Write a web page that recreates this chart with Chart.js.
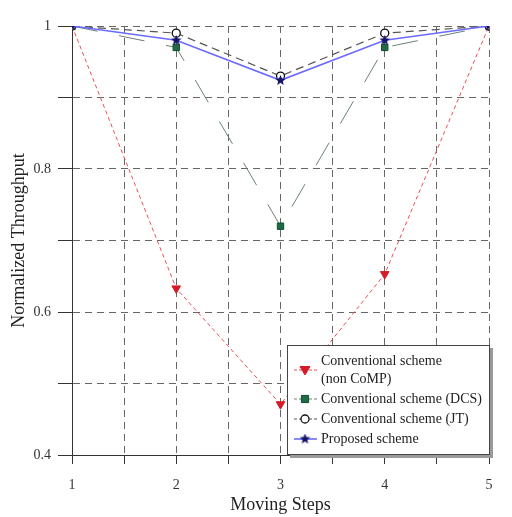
<!DOCTYPE html>
<html>
<head>
<meta charset="utf-8">
<script src="https://cdn.jsdelivr.net/npm/chart.js@4/dist/chart.umd.min.js"></script>
<style>
  html, body { margin: 0; padding: 0; background: #fff; }
  #wrap { width: 512px; height: 517px; }
</style>
</head>
<body>
<div id="wrap"><canvas id="chart"></canvas></div>
<script>
// Daten
const steps = [1, 2, 3, 4, 5];
const nonCompValues = [1, 0.633, 0.471, 0.653, 1];
const dcsValues = [1, 0.97, 0.72, 0.97, 1];
const jtValues = [1, 0.99, 0.93, 0.99, 1];
const proposedValues = [1, 0.98, 0.924, 0.98, 1];
const yLabelTicks = [0.4, 0.6, 0.8, 1];

const serif = '"Liberation Serif", "DejaVu Serif", serif';

function toPoints(values) {
    return steps.map((s, i) => ({ x: s, y: values[i] }));
}

// Stern als Punktsymbol
function makeStar(size, color) {
    const c = document.createElement('canvas');
    c.width = size; c.height = size;
    const g = c.getContext('2d');
    const cx = size / 2, cy = size / 2, ro = size / 2, ri = ro * 0.45;
    g.beginPath();
    for (let i = 0; i < 10; i++) {
        const r = i % 2 === 0 ? ro : ri;
        const a = -Math.PI / 2 + i * Math.PI / 5;
        g.lineTo(cx + r * Math.cos(a), cy + r * Math.sin(a));
    }
    g.closePath();
    g.fillStyle = color;
    g.fill();
    return c;
}
const starImg = makeStar(11, '#14146a');

// Legende im Diagramm
function drawMarker(ctx, ds, x, y) {
    ctx.save();
    ctx.setLineDash([]);
    ctx.fillStyle = ds.pointBackgroundColor;
    ctx.strokeStyle = ds.pointBorderColor;
    ctx.lineWidth = ds.pointBorderWidth;
    const r = ds.pointRadius;
    ctx.beginPath();
    if (ds.pointStyle === 'triangle') {
        ctx.moveTo(x - r, y - r * 0.7);
        ctx.lineTo(x + r, y - r * 0.7);
        ctx.lineTo(x, y + r);
        ctx.closePath();
        ctx.fill(); ctx.stroke();
    } else if (ds.pointStyle === 'rect') {
        ctx.rect(x - r * 0.8, y - r * 0.8, r * 1.6, r * 1.6);
        ctx.fill(); ctx.stroke();
    } else if (ds.pointStyle === 'circle') {
        ctx.arc(x, y, r, 0, Math.PI * 2);
        ctx.fill(); ctx.stroke();
    } else {
        ctx.drawImage(ds.pointStyle, x - ds.pointStyle.width / 2, y - ds.pointStyle.height / 2);
    }
    ctx.restore();
}

const boxLegend = {
    id: 'boxLegend',
    afterDraw(chart) {
        const ctx = chart.ctx;
        const area = chart.chartArea;
        const w = 203, h = 110;
        const left = area.right - w + 1, top = area.bottom - h;
        ctx.save();
        ctx.fillStyle = '#9a9a9a';
        ctx.fillRect(left + 3, top + 3, w, h);
        ctx.fillStyle = '#fff';
        ctx.fillRect(left, top, w, h);
        ctx.strokeStyle = '#444';
        ctx.lineWidth = 1;
        ctx.setLineDash([]);
        ctx.strokeRect(left + 0.5, top + 0.5, w - 1, h - 1);

        ctx.font = '14px ' + serif;
        ctx.textBaseline = 'middle';
        let y = top + 16;
        chart.data.datasets.forEach(ds => {
            const lines = Array.isArray(ds.label) ? ds.label : [ds.label];
            const rowY = y + (lines.length - 1) * 9;
            ctx.save();
            ctx.strokeStyle = ds.borderColor;
            ctx.lineWidth = ds.borderWidth;
            ctx.setLineDash([3, 2]);
            if (!ds.borderDash.length) ctx.setLineDash([]);
            ctx.beginPath();
            ctx.moveTo(left + 7, rowY);
            ctx.lineTo(left + 30, rowY);
            ctx.stroke();
            ctx.restore();
            drawMarker(ctx, ds, left + 18, rowY);
            ctx.fillStyle = '#222';
            lines.forEach((t, k) => ctx.fillText(t, left + 34, y + k * 18));
            y += lines.length * 18 + 2;
        });
        ctx.restore();
    }
};

const ctx = document.getElementById('chart').getContext('2d');

const chart = new Chart(ctx, {
    type: 'line',
    data: {
        datasets: [{
            label: ['Conventional scheme', '(non CoMP)'],
            data: toPoints(nonCompValues),
            borderColor: '#e8505a',
            borderWidth: 1,
            borderDash: [4, 3],
            pointStyle: 'triangle',
            rotation: 180,
            pointRadius: 5,
            pointBackgroundColor: '#d41c28',
            pointBorderColor: '#d41c28',
            pointBorderWidth: 1,
            order: 4
        }, {
            label: 'Conventional scheme (DCS)',
            data: toPoints(dcsValues),
            borderColor: '#6b8274',
            borderWidth: 1,
            borderDash: [26, 22],
            pointStyle: 'rect',
            pointRadius: 4.5,
            pointBackgroundColor: '#1f6b45',
            pointBorderColor: '#124a2e',
            pointBorderWidth: 1,
            order: 3
        }, {
            label: 'Conventional scheme (JT)',
            data: toPoints(jtValues),
            borderColor: '#555555',
            borderWidth: 1.2,
            borderDash: [8, 5],
            pointStyle: 'circle',
            pointRadius: 4,
            pointBackgroundColor: '#ffffff',
            pointBorderColor: '#111111',
            pointBorderWidth: 1.3,
            order: 2
        }, {
            label: 'Proposed scheme',
            data: toPoints(proposedValues),
            borderColor: '#6b6bff',
            borderWidth: 1.6,
            borderDash: [],
            pointStyle: starImg,
            pointRadius: 5,
            pointBackgroundColor: '#14146a',
            pointBorderColor: '#14146a',
            pointBorderWidth: 1,
            order: 1
        }]
    },
    options: {
        responsive: true,
        maintainAspectRatio: false,
        animation: false,
        layout: { padding: { left: 0, top: 26, right: 23, bottom: 0 } },
        plugins: {
            legend: { display: false },
            tooltip: { enabled: false }
        },
        elements: { line: { tension: 0 } },
        scales: {
            x: {
                type: 'linear',
                min: 1,
                max: 5,
                afterFit: s => { s.height = 62; },
                ticks: {
                    stepSize: 0.5,
                    padding: 13,
                    color: '#333',
                    font: { family: serif, size: 14 },
                    callback: v => Number.isInteger(v) ? String(v) : ''
                },
                grid: {
                    color: '#666666',
                    lineWidth: 1,
                    tickLength: 9,
                    tickColor: '#333',
                    tickBorderDash: []
                },
                border: { display: true, color: '#333', width: 1, dash: [7, 5] },
                title: {
                    display: true,
                    text: 'Moving Steps',
                    color: '#222',
                    font: { family: serif, size: 18 },
                    padding: { top: 0, bottom: 1 }
                }
            },
            y: {
                min: 0.4,
                max: 1,
                afterFit: s => { s.width = 72; },
                ticks: {
                    stepSize: 0.1,
                    padding: 7,
                    color: '#333',
                    font: { family: serif, size: 14 },
                    callback: v => {
                        const hit = yLabelTicks.find(t => Math.abs(t - v) < 1e-6);
                        if (hit === undefined) return '';
                        return hit === 1 ? '1' : hit.toFixed(1);
                    }
                },
                grid: {
                    color: '#666666',
                    lineWidth: 1,
                    tickLength: 14,
                    tickColor: '#333',
                    tickBorderDash: []
                },
                border: { display: true, color: '#333', width: 1, dash: [7, 5] },
                title: {
                    display: true,
                    text: 'Normalized Throughput',
                    color: '#222',
                    font: { family: serif, size: 18 },
                    padding: { top: 8, bottom: 0 }
                }
            }
        }
    },
    plugins: [boxLegend]
});
</script>
</body>
</html>
